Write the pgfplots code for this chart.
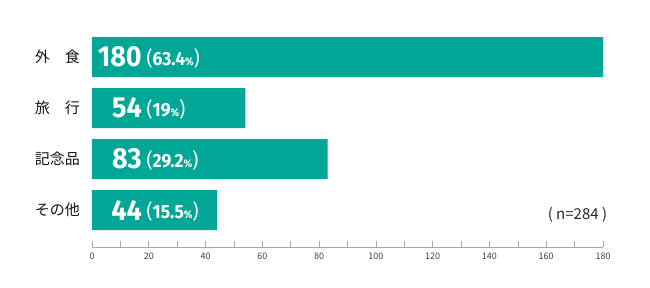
\documentclass[border=0pt]{standalone}
\usepackage{pgfplots}
\pgfplotsset{compat=1.18}
\usepackage{fontspec}
\setmainfont{Noto Sans CJK JP}
\newfontfamily\numfont{Fira Sans}
\newfontfamily\jpfont{Noto Sans CJK JP}
\definecolor{barteal}{RGB}{0,166,150}
\definecolor{axgray}{RGB}{170,170,170}
\newcommand\bignum[1]{\scalebox{0.93}[1]{\fontsize{29}{29}\selectfont\numfont\bfseries #1}}
\newcommand\pct[1]{\scalebox{0.92}[1]{\numfont\bfseries{\fontsize{20}{20}\selectfont\mdseries (}{\fontsize{19}{19}\selectfont #1}{\fontsize{11}{11}\selectfont\%}{\fontsize{20}{20}\selectfont\mdseries )}}}
\begin{document}
\begin{tikzpicture}
\begin{axis}[
  scale only axis, width=511pt, height=220.6pt,
  xmin=0, xmax=180, ymin=-0.725, ymax=3.6,
  enlarge x limits=false,
  axis x line*=bottom, axis y line*=left,
  y axis line style={draw=none},
  x axis line style={draw=axgray, line width=0.6pt, -},
  xtick={0,20,...,180}, minor x tick num=1,
  tick align=inside,
  major tick length=6pt, minor tick length=6pt,
  xtick style={draw=axgray, line width=0.6pt},
  ytick={0,1,2,3}, ytick style={draw=none},
  yticklabels={その他,記念品,旅　行,外　食},
  yticklabel style={font=\jpfont\fontsize{15}{15}\selectfont, text=black!92, inner sep=0pt, anchor=east, xshift=-12pt},
  xticklabel style={font=\jpfont\fontsize{9}{9}\selectfont, text=black!75, yshift=-2pt},
  /pgf/number format/assume math mode=true,
  clip=false,
]
\addplot[xbar, bar width=40pt, fill=barteal, draw=none] coordinates {
  (44,0) (83,1) (54,2) (180,3)
};
\addplot[only marks, mark=none, nodes near coords, point meta=explicit symbolic,
  every node near coord/.style={anchor=east, inner sep=0pt, text=white}]
  coordinates {
  (17.6,0) [\bignum{44}]
  (17.6,1) [\bignum{83}]
  (17.6,2) [\bignum{54}]
  (17.6,3) [\bignum{180}]
};
\addplot[only marks, mark=none, nodes near coords, point meta=explicit symbolic,
  every node near coord/.style={anchor=west, inner sep=0pt, text=white, yshift=-1pt}]
  coordinates {
  (19.2,0) [\pct{15.5}]
  (19.2,1) [\pct{29.2}]
  (19.2,2) [\pct{19}]
  (19.2,3) [\pct{63.4}]
};
\node[font=\jpfont\fontsize{15}{15}\selectfont, text=black!85] at (axis cs:171,-0.1) {( n=284 )};
\end{axis}
\pgfresetboundingbox
\path[use as bounding box] (-92pt,-40pt) rectangle (558pt,247pt);
\end{tikzpicture}
\end{document}
